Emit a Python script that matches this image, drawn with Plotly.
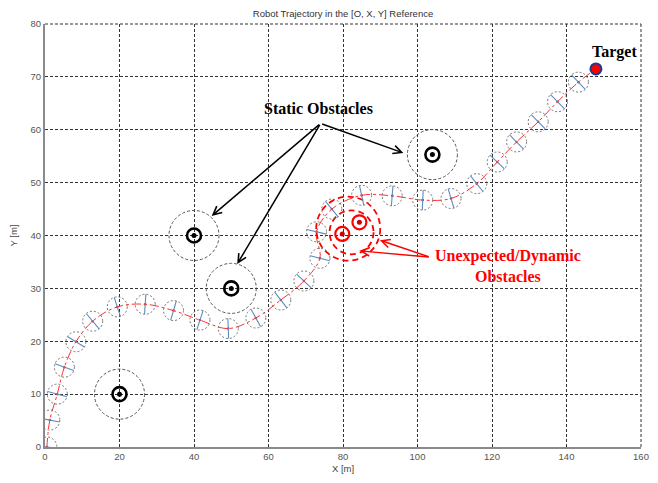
import math
import plotly.graph_objects as go

# ---------------- data ----------------
traj_x = [0.5, 1.3, 3.3, 5.2, 8.3, 12.8, 19.4, 26.9, 34.5, 41.6, 49.2, 56.6, 63.3,
          69.5, 73.8, 72.9, 77.0, 85.0, 93.2, 101.4, 109.0, 115.9, 121.4, 126.6,
          132.4, 137.6, 143.2]
traj_y = [0.0, 5.1, 10.0, 15.1, 19.9, 23.8, 26.5, 27.0, 25.8, 24.0, 22.4, 24.4, 27.8,
          31.4, 35.7, 40.7, 45.0, 47.6, 47.5, 46.7, 47.0, 49.8, 53.9, 57.7,
          61.5, 65.3, 69.0]
target_x = [147.9]
target_y = [71.5]
static_x = [20, 40, 50, 104]
static_y = [10, 40, 30, 55.3]
dyn_x = [79.8, 84.4]
dyn_y = [40.3, 42.5]
dyn_zone_x = [81.4, 82.3]
dyn_zone_y = [41.3, 40.6]
dyn_zone_r = [32, 22]          # pixel radii of the dashed zones
x_ticks = [0, 20, 40, 60, 80, 100, 120, 140, 160]
y_ticks = [0, 10, 20, 30, 40, 50, 60, 70, 80]

# page body has an 8px margin: figure occupies 8..658 x 8..483
W, H = 650, 475
ML, MR, MT, MB = 37, 17, 16, 36
SX = (W - ML - MR) / 160.0
SY = (H - MT - MB) / 80.0

fig = go.Figure()


def pcircle(x, y, r, color, width, dash="solid"):
    return dict(type="circle", xref="x", yref="y", xsizemode="pixel", ysizemode="pixel",
                xanchor=x, yanchor=y, x0=-r, x1=r, y0=-r, y1=r,
                line=dict(color=color, width=width, dash=dash), layer="above")


shapes = []
# static obstacles
for x, y in zip(static_x, static_y):
    shapes.append(pcircle(x, y, 25, "#555555", 1, "3px,2px"))
    shapes.append(pcircle(x, y, 7, "black", 2.6))
# dynamic obstacles
for x, y, r in zip(dyn_zone_x, dyn_zone_y, dyn_zone_r):
    shapes.append(pcircle(x, y, r, "red", 1.8, "6px,4px"))
for x, y in zip(dyn_x, dyn_y):
    shapes.append(pcircle(x, y, 7, "red", 2.2))

# robot footprint circles + orientation bars
n = len(traj_x)
for i in range(n):
    x, y = traj_x[i], traj_y[i]
    shapes.append(pcircle(x, y, 10, "#666666", 0.9, "2px,2px"))
    a = max(i - 1, 0)
    b = min(i + 1, n - 1)
    tx = (traj_x[b] - traj_x[a]) * SX
    ty = (traj_y[b] - traj_y[a]) * SY
    L = math.hypot(tx, ty) or 1.0
    nx, ny = -ty / L * 10, tx / L * 10
    shapes.append(dict(type="line", xref="x", yref="y", xsizemode="pixel", ysizemode="pixel",
                       xanchor=x, yanchor=y, x0=-nx, x1=nx, y0=-ny, y1=ny,
                       line=dict(color="#5b8cc0", width=1.1), layer="above"))

# trajectory line
fig.add_trace(go.Scatter(x=traj_x + target_x, y=traj_y + target_y, mode="lines",
                         line=dict(color="#ff3030", width=1, dash="dashdot", shape="spline"),
                         hoverinfo="skip", showlegend=False))
fig.add_trace(go.Scatter(x=traj_x, y=traj_y, mode="markers",
                         marker=dict(color="#e03030", size=2.5), showlegend=False))
# obstacle centres
fig.add_trace(go.Scatter(x=static_x, y=static_y, mode="markers",
                         marker=dict(color="black", size=5), showlegend=False))
fig.add_trace(go.Scatter(x=dyn_x, y=dyn_y, mode="markers",
                         marker=dict(color="#cc0000", size=5), showlegend=False))
# target
fig.add_trace(go.Scatter(x=target_x, y=target_y, mode="markers",
                         marker=dict(color="red", size=11, line=dict(color="#1f3a8a", width=2)),
                         showlegend=False))

serif = "Liberation Serif, Times New Roman, serif"
ann = []
ann.append(dict(x=73.3, y=64.1, xref="x", yref="y", text="<b>Static Obstacles</b>", showarrow=False,
                font=dict(family=serif, size=16, color="black")))
ann.append(dict(x=153.0, y=74.7, xref="x", yref="y", text="<b>Target</b>", showarrow=False,
                font=dict(family=serif, size=16, color="black")))
ann.append(dict(x=124.3, y=34.2, xref="x", yref="y",
                text="<b>Unexpected/Dynamic<br>Obstacles</b>", showarrow=False,
                font=dict(family=serif, size=16, color="red"), align="center"))
for hx, hy in [(44.75, 43.7), (51.6, 34.6), (96.2, 55.6)]:
    ann.append(dict(x=hx, y=hy, ax=74.0, ay=61.2, xref="x", yref="y", axref="x", ayref="y",
                    text="", showarrow=True, arrowhead=5, arrowsize=1.1, arrowwidth=1.5,
                    arrowcolor="black", standoff=0, startstandoff=0))
for hx, hy in [(89.9, 39.1), (84.4, 37.1)]:
    ann.append(dict(x=hx, y=hy, ax=103.4, ay=35.9, xref="x", yref="y", axref="x", ayref="y",
                    text="", showarrow=True, arrowhead=5, arrowsize=1.1, arrowwidth=1.5,
                    arrowcolor="red", standoff=0, startstandoff=0))

# frame top/right dashed
shapes.append(dict(type="line", xref="paper", yref="paper", x0=0, x1=1, y0=1, y1=1,
                   line=dict(color="#333333", width=1, dash="3px,2px"), layer="below"))
shapes.append(dict(type="line", xref="paper", yref="paper", x0=1, x1=1, y0=0, y1=1,
                   line=dict(color="#333333", width=1, dash="3px,2px"), layer="below"))

sans = "Liberation Sans, Arial, sans-serif"
tickfont = dict(family=sans, size=9.5, color="#555555")
fig.update_layout(
    width=W, height=H,
    margin=dict(l=ML, r=MR, t=MT, b=MB),
    paper_bgcolor="white", plot_bgcolor="white",
    title=dict(text="Robot Trajectory in the [O, X, Y] Reference", x=0.5, xref="paper",
               y=1 - 5.5 / H, yanchor="middle",
               font=dict(family=sans, size=9.5, color="#333333")),
    xaxis=dict(range=[0, 160], tickvals=x_ticks, showgrid=True, gridcolor="#333333",
               griddash="3px,2px", gridwidth=1, zeroline=False, showline=True,
               linecolor="#8a8a8a", linewidth=2, ticks="", tickfont=tickfont,
               title=dict(text="X [m]", font=dict(family=sans, size=9.5, color="#444444"),
                          standoff=4),
               automargin=False, fixedrange=True),
    yaxis=dict(range=[0, 80], tickvals=y_ticks, showgrid=True, gridcolor="#333333",
               griddash="3px,2px", gridwidth=1, zeroline=False, showline=True,
               linecolor="#8a8a8a", linewidth=2, ticks="", tickfont=tickfont,
               title=dict(text="Y [m]", font=dict(family=sans, size=9.5, color="#444444"),
                          standoff=17),
               automargin=False, fixedrange=True),
    shapes=shapes,
    annotations=ann,
)

fig.write_html("out.html")
